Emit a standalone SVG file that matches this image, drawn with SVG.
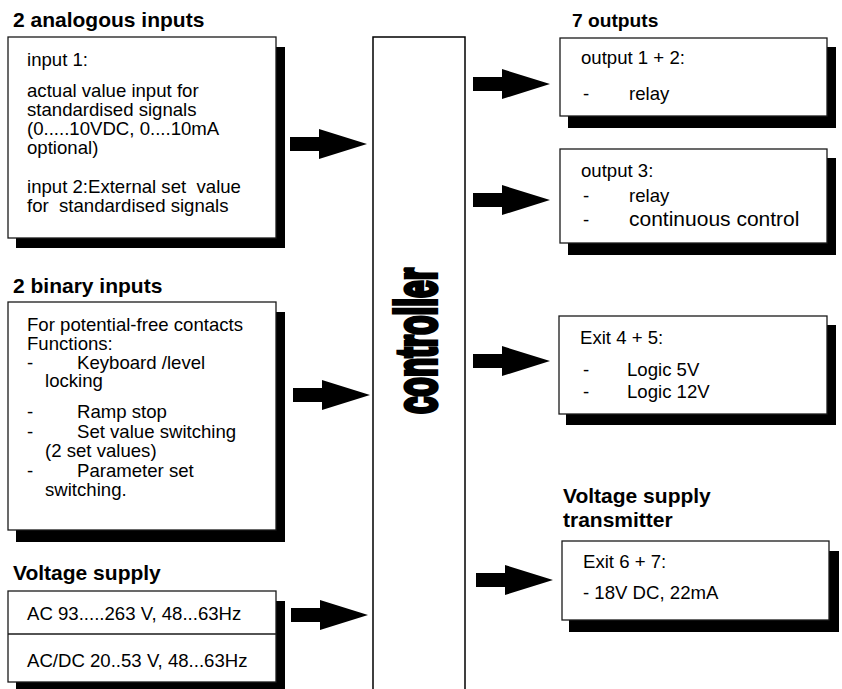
<svg xmlns="http://www.w3.org/2000/svg" width="842" height="689" viewBox="0 0 842 689">
<style>
.box{fill:#fff;stroke:#1a1a1a;stroke-width:1.3}
.sh{fill:#000}
.t{font-family:"Liberation Sans",Arial,sans-serif;font-size:18.6px;fill:#000}
.h{font-family:"Liberation Sans",Arial,sans-serif;font-size:21px;font-weight:bold;fill:#000}
.h2{font-size:19.2px}
.big{font-size:21px}
.ar{fill:#000}
</style>
<defs>
<path id="arrow" d="M0,-7 H29 V-15 L77,0 L29,15 V7 H0 Z"/>
</defs>
<rect width="842" height="689" fill="#fff"/>

<g id="analog-inputs">
<text class="h" x="13" y="27">2 analogous inputs</text>
<rect class="sh" x="16" y="47" width="269" height="201"/>
<rect class="box" x="8" y="37" width="268" height="201"/>
<text class="t" x="27" y="66">input 1:</text>
<text class="t" x="27" y="97">actual value input for</text>
<text class="t" x="27" y="116">standardised signals</text>
<text class="t" x="27" y="135">(0.....10VDC, 0....10mA</text>
<text class="t" x="27" y="154">optional)</text>
<text class="t" x="27" y="193" xml:space="preserve">input 2:External set  value</text>
<text class="t" x="27" y="212" xml:space="preserve">for  standardised signals</text>
</g>

<g id="binary-inputs">
<text class="h" x="13" y="293">2 binary inputs</text>
<rect class="sh" x="16" y="312" width="269" height="230"/>
<rect class="box" x="8" y="302" width="268" height="228"/>
<text class="t" x="27" y="331">For potential-free contacts</text>
<text class="t" x="27" y="350">Functions:</text>
<text class="t" x="27" y="369">-</text>
<text class="t" x="77" y="369">Keyboard /level</text>
<text class="t" x="45" y="387">locking</text>
<text class="t" x="27" y="418">-</text>
<text class="t" x="77" y="418">Ramp stop</text>
<text class="t" x="27" y="438">-</text>
<text class="t" x="77" y="438">Set value switching</text>
<text class="t" x="45" y="457">(2 set values)</text>
<text class="t" x="27" y="477">-</text>
<text class="t" x="77" y="477">Parameter set</text>
<text class="t" x="45" y="496">switching.</text>
</g>

<g id="voltage-supply">
<text class="h" x="13" y="580">Voltage supply</text>
<rect class="sh" x="16" y="601" width="269" height="90"/>
<rect class="box" x="8" y="591" width="268" height="91"/>
<line x1="8" y1="634" x2="276" y2="634" stroke="#1a1a1a" stroke-width="1.3"/>
<text class="t" x="27" y="620">AC 93.....263 V, 48...63Hz</text>
<text class="t" x="27" y="667">AC/DC 20..53 V, 48...63Hz</text>
</g>

<g id="controller">
<rect x="373" y="37" width="92" height="670" fill="#fff" stroke="#000" stroke-width="1.5"/>
<text transform="translate(436,414) rotate(-90) scale(1,1.78)" font-family="'Liberation Sans',Arial,sans-serif" font-size="32" font-weight="bold" stroke="#000" stroke-width="2.4" textLength="146" lengthAdjust="spacingAndGlyphs">controller</text>
</g>

<g id="output-1-2">
<text class="h h2" x="572" y="27">7 outputs</text>
<rect class="sh" x="568" y="47" width="268" height="81"/>
<rect class="box" x="560" y="38" width="267" height="78"/>
<text class="t" x="581" y="64">output 1 + 2:</text>
<text class="t" x="583" y="100">-</text>
<text class="t" x="629" y="100">relay</text>
</g>

<g id="output-3">
<rect class="sh" x="568" y="158" width="268" height="97"/>
<rect class="box" x="560" y="149" width="267" height="94"/>
<text class="t" x="581" y="177">output 3:</text>
<text class="t" x="583" y="202">-</text>
<text class="t" x="629" y="202">relay</text>
<text class="t" x="583" y="226">-</text>
<text class="t big" x="629" y="226">continuous control</text>
</g>

<g id="exit-4-5">
<rect class="sh" x="566" y="325" width="270" height="100"/>
<rect class="box" x="559" y="316" width="268" height="98"/>
<text class="t" x="580" y="344">Exit 4 + 5:</text>
<text class="t" x="583" y="376">-</text>
<text class="t" x="627" y="376">Logic 5V</text>
<text class="t" x="583" y="398">-</text>
<text class="t" x="627" y="398">Logic 12V</text>
</g>

<g id="exit-6-7">
<text class="h" x="563" y="503">Voltage supply</text>
<text class="h" x="563" y="527">transmitter</text>
<rect class="sh" x="569" y="551" width="270" height="81"/>
<rect class="box" x="562" y="541" width="267" height="79"/>
<text class="t" x="583" y="568">Exit 6 + 7:</text>
<text class="t" x="583" y="599">- 18V DC, 22mA</text>
</g>

<g id="connectors" class="ar">
<use href="#arrow" transform="translate(290,144)"/>
<use href="#arrow" transform="translate(293,395)"/>
<use href="#arrow" transform="translate(291,615)"/>
<use href="#arrow" transform="translate(473,84)"/>
<use href="#arrow" transform="translate(473,200)"/>
<use href="#arrow" transform="translate(473,361)"/>
<use href="#arrow" transform="translate(476,580)"/>
</g>
</svg>
